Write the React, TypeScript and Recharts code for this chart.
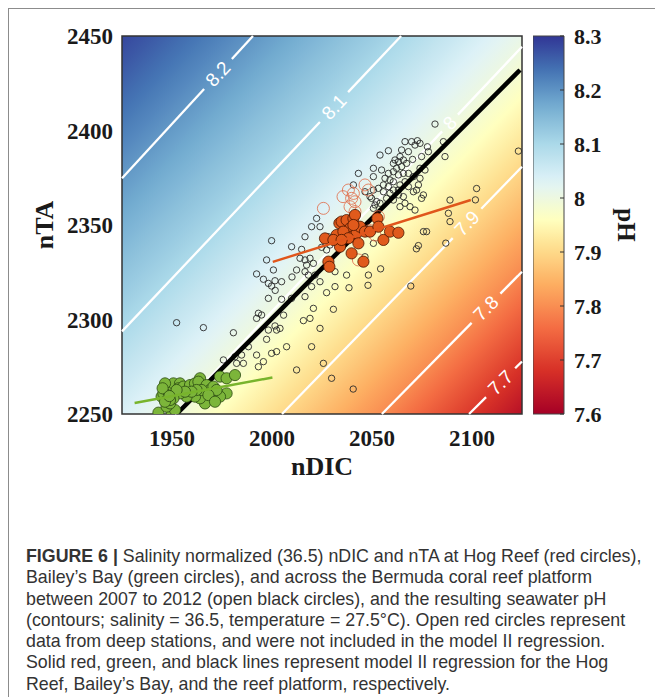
import React from "react";
import {
  ScatterChart,
  Scatter,
  XAxis,
  YAxis,
  ReferenceArea,
  ReferenceLine,
  Label,
} from "recharts";

// axes
const dicDomain = [1925, 2125];
const taDomain = [2250, 2450];
const dicTicks = [1950, 2000, 2050, 2100];
const taTicks = [2250, 2300, 2350, 2400, 2450];
const phTicks = [7.6, 7.7, 7.8, 7.9, 8.0, 8.1, 8.2, 8.3];

// pH contours: level, nTA where the contour crosses nDIC = 2025, slope, where the label sits
const contourLevels = [8.2, 8.1, 8.0, 7.9, 7.8, 7.7];
const contourLabels = ["8.2", "8.1", "8", "7.9", "7.8", "7.7"];
const contourTA2025 = [2489.7, 2405.7, 2332.3, 2271.8, 2217.8, 2172.8];
const contourSlope = [1.15, 1.12, 1.12, 1.09, 1.075, 1.05];
const contourLabelDIC = [1973, 2031, 2089, 2097.5, 2107, 2114.3];

// colour map (low pH red -> high pH blue)
const phColorLevels = [7.6, 7.68, 7.76, 7.84, 7.91, 7.96, 8.03, 8.1, 8.17, 8.235, 8.3];
const phColors = [
  "#a50026", "#d73027", "#f46d43", "#fdae61", "#fee090", "#ffffbf",
  "#e0f3f8", "#abd9e9", "#74add1", "#4575b4", "#313695",
];

// reef platform (open black circles)
const platform: number[][] = [
  [2081.5, 2403.4], [2066.5, 2394.1], [2069.8, 2394.1], [2072.7, 2394.6], [2074.0, 2393.2],
  [2071.5, 2392.3], [2077.7, 2391.4], [2078.2, 2388.8], [2074.8, 2386.2], [2070.3, 2384.7],
  [2068.2, 2388.8], [2064.8, 2389.7], [2064.0, 2386.2], [2061.5, 2384.4], [2060.7, 2382.6],
  [2063.2, 2383.5], [2065.7, 2384.4], [2067.3, 2382.6], [2064.8, 2380.9], [2062.3, 2380.0],
  [2060.7, 2378.2], [2058.2, 2377.3], [2054.8, 2379.1], [2054.0, 2387.0], [2058.2, 2389.3],
  [2050.7, 2380.0], [2050.7, 2375.6], [2043.2, 2377.3], [2056.5, 2374.7], [2059.0, 2373.8],
  [2060.7, 2372.9], [2063.2, 2376.5], [2065.7, 2377.3], [2068.2, 2377.3], [2070.7, 2375.6],
  [2074.0, 2374.7], [2073.2, 2371.2], [2072.3, 2368.5], [2070.7, 2367.6], [2068.2, 2370.3],
  [2066.5, 2372.9], [2064.0, 2371.2], [2063.2, 2368.5], [2060.7, 2368.5], [2058.2, 2370.3],
  [2055.7, 2371.2], [2053.2, 2369.4], [2055.7, 2367.6], [2059.0, 2366.8], [2063.2, 2365.9],
  [2065.7, 2365.0], [2066.5, 2361.5], [2064.0, 2359.7], [2060.7, 2363.2], [2057.3, 2364.1],
  [2050.7, 2368.5], [2049.8, 2364.1], [2051.5, 2360.6], [2074.8, 2364.1], [2075.7, 2365.9],
  [2069.0, 2359.7], [2071.5, 2357.9], [2085.7, 2394.1], [2086.5, 2386.2], [2089.0, 2363.2],
  [2088.2, 2356.2], [2089.0, 2351.8], [2077.3, 2346.5], [2075.7, 2346.5], [2074.0, 2380.0],
  [2076.5, 2379.1], [2054.0, 2361.5], [2040.7, 2371.2],
  [2102.3, 2369.3], [2101.7, 2363.3], [2123.2, 2389.1], [2086.9, 2340.4], [2073.2, 2339.1],
  [2072.2, 2337.4], [2069.4, 2317.7], [2054.3, 2326.8], [2048.0, 2318.1], [2038.5, 2316.8],
  [2046.5, 2367.6], [2049.0, 2365.0], [2052.3, 2362.4], [2050.7, 2358.8], [2022.3, 2353.5],
  [2019.8, 2349.1], [2024.0, 2349.1], [1999.8, 2341.7], [2009.8, 2338.5], [2014.8, 2337.1],
  [2016.5, 2343.8], [1997.3, 2331.5], [2000.7, 2326.2], [1992.3, 2324.1], [1995.7, 2321.3],
  [1998.2, 2319.1], [2001.5, 2320.5], [2004.8, 2320.0], [2014.0, 2332.4], [2016.5, 2331.5],
  [2019.0, 2332.4], [2017.3, 2328.8], [2012.3, 2326.2], [2016.5, 2325.3], [2018.2, 2323.5],
  [2021.5, 2323.5], [2027.3, 2336.8], [2029.0, 2339.4], [2031.5, 2325.3], [2037.3, 2323.5],
  [2048.2, 2323.5], [2031.5, 2317.4], [2050.7, 2340.3], [2042.3, 2355.3], [2046.5, 2333.2],
  [2028.2, 2343.8], [2024.8, 2338.2], [2010.0, 2322.5], [2001.6, 2315.4], [2027.9, 2329.5],
  [2020.7, 2329.7], [1999.8, 2317.7], [1998.2, 2311.2], [2004.8, 2310.7], [2009.8, 2311.2],
  [2016.5, 2312.1], [2019.8, 2317.4], [2024.0, 2320.0], [2027.3, 2314.2], [1952.3, 2298.3],
  [1965.7, 2295.7], [1980.7, 2293.0], [1993.2, 2303.3], [1994.8, 2302.4], [1992.3, 2300.6],
  [1998.2, 2294.4], [2002.3, 2294.4], [2001.5, 2296.6], [2004.0, 2295.3], [2007.3, 2285.6],
  [2015.7, 2299.4], [2019.0, 2300.6], [2024.0, 2295.3], [2020.7, 2305.9], [2030.7, 2305.4],
  [1997.3, 2289.5], [1988.2, 2285.6], [1992.3, 2281.2], [1995.7, 2277.7], [1993.2, 2275.0],
  [1999.8, 2282.1], [2002.3, 2283.0], [1984.8, 2281.2], [1981.5, 2280.3], [1982.3, 2276.8],
  [1985.7, 2276.8], [1975.7, 2278.6], [2012.3, 2273.3], [2019.8, 2285.6], [2029.8, 2268.9],
  [2025.7, 2276.8], [2040.6, 2263.2], [2005.8, 2302.3],
];

// Hog Reef (filled red)
const hogReef: number[][] = [
  [2026.5, 2342.9], [2028.2, 2330.6], [2028.7, 2327.9], [2032.3, 2344.7], [2033.7, 2350.9],
  [2034.0, 2338.5], [2034.8, 2351.8], [2037.3, 2352.6], [2039.0, 2348.2], [2039.8, 2343.8],
  [2039.8, 2335.0], [2040.7, 2353.5], [2041.5, 2355.3], [2042.3, 2345.6], [2043.2, 2340.3],
  [2044.0, 2349.1], [2045.7, 2330.6], [2046.5, 2346.5], [2049.0, 2346.5], [2052.7, 2353.5],
  [2053.2, 2349.1], [2055.7, 2342.1], [2059.0, 2346.5], [2063.2, 2345.9], [2040.7, 2350.0],
  [2035.7, 2346.5], [2038.2, 2343.0], [2030.7, 2342.1], [2034.8, 2342.1],
];

// Hog Reef deep stations (open red)
const hogDeep: number[][] = [
  [2025.7, 2358.8], [2038.2, 2368.5], [2039.8, 2364.1], [2039.0, 2359.7], [2041.5, 2362.3],
  [2046.5, 2371.2], [2048.2, 2368.5], [2041.5, 2357.1], [2053.2, 2354.4], [2051.5, 2344.7],
  [2043.2, 2331.5], [2040.7, 2366.7], [2049.0, 2347.0], [2035.5, 2365.0],
];

// Bailey's Bay (filled green)
const baileysBay: number[][] = [
  [1943.2, 2250.7], [1949.8, 2251.2], [1951.5, 2252.1], [1947.3, 2253.9], [1949.0, 2255.6],
  [1944.8, 2259.2], [1945.7, 2260.9], [1947.3, 2262.7], [1948.2, 2264.5], [1949.8, 2265.3],
  [1950.7, 2266.2], [1954.0, 2266.2], [1953.2, 2263.6], [1955.7, 2264.5], [1959.0, 2265.3],
  [1961.5, 2266.2], [1964.0, 2268.9], [1963.2, 2267.1], [1967.3, 2265.3], [1969.0, 2262.7],
  [1970.7, 2264.5], [1974.0, 2269.8], [1977.3, 2268.9], [1981.5, 2270.6], [1977.3, 2260.9],
  [1974.0, 2259.2], [1972.3, 2262.7], [1966.5, 2255.6], [1964.0, 2258.3], [1961.5, 2259.2],
  [1957.3, 2259.2], [1954.0, 2260.9], [1950.7, 2258.3], [1949.0, 2257.4], [1946.5, 2256.5],
  [1964.8, 2262.7], [1968.2, 2260.0], [1971.5, 2256.5], [1962.3, 2262.7], [1959.8, 2261.8],
  [1956.5, 2261.8], [1952.3, 2262.7], [1946.5, 2266.2], [1945.3, 2263.6], [1948.7, 2259.5],
];

// model II regression lines (end points)
const platformFit = [[1952.3, 2250], [2124, 2432]];
const hogFit = [[2000.4, 2330.5], [2099.4, 2363.2]];
const baileyFit = [[1931.3, 2255.8], [2000.2, 2269.3]];

const toPts = (arr: number[][]) => arr.map(([x, y]) => ({ x, y }));

const hexToRgb = (h: string) => [
  parseInt(h.slice(1, 3), 16),
  parseInt(h.slice(3, 5), 16),
  parseInt(h.slice(5, 7), 16),
];

const phColor = (ph: number) => {
  const lv = phColorLevels;
  if (ph <= lv[0]) return phColors[0];
  if (ph >= lv[lv.length - 1]) return phColors[phColors.length - 1];
  let i = 0;
  while (ph > lv[i + 1]) i++;
  const t = (ph - lv[i]) / (lv[i + 1] - lv[i]);
  const a = hexToRgb(phColors[i]);
  const b = hexToRgb(phColors[i + 1]);
  const c = a.map((v, k) => Math.round(v + t * (b[k] - v)));
  return `rgb(${c[0]},${c[1]},${c[2]})`;
};

// shading of the pH field: a linear gradient across the plot, perpendicular to the contours
const SLOPE = 1.1;
const dicSpan = dicDomain[1] - dicDomain[0];
const taSpan = taDomain[1] - taDomain[0];
const fieldOffset = contourTA2025.map(
  (b) => (SLOPE * (2025 - dicDomain[0]) / dicSpan + (taDomain[1] - b) / taSpan) / (SLOPE + 1)
);
const phAtOffset = (o: number) => {
  const n = fieldOffset.length;
  let i = 0;
  while (i < n - 2 && o > fieldOffset[i + 1]) i++;
  const t = (o - fieldOffset[i]) / (fieldOffset[i + 1] - fieldOffset[i]);
  return contourLevels[i] + t * (contourLevels[i + 1] - contourLevels[i]);
};
const gradScale = (SLOPE + 1) / (SLOPE * SLOPE + 1);
const fieldStops = Array.from({ length: 51 }, (_, k) => k / 50);
const barStops = Array.from({ length: 36 }, (_, k) => k / 35);

const contourSegment = (b: number, s: number) => {
  let x1 = dicDomain[0];
  let y1 = b + s * (x1 - 2025);
  if (y1 < taDomain[0]) {
    y1 = taDomain[0];
    x1 = 2025 + (taDomain[0] - b) / s;
  }
  let x2 = dicDomain[1];
  let y2 = b + s * (x2 - 2025);
  if (y2 > taDomain[1]) {
    y2 = taDomain[1];
    x2 = 2025 + (taDomain[1] - b) / s;
  }
  return [{ x: x1, y: y1 }, { x: x2, y: y2 }];
};

const serif = "'Liberation Serif', 'Times New Roman', serif";
const sans = "'Liberation Sans', Arial, sans-serif";

const renderContour = (props: any, label: string, t: number) => {
  const { x1, y1, x2, y2 } = props;
  if (x1 == null) return <g />;
  const dx = x2 - x1;
  const dy = y2 - y1;
  const len = Math.hypot(dx, dy);
  const ux = dx / len;
  const uy = dy / len;
  const px = x1 + t * dx;
  const py = y1 + t * dy;
  const g = 7 + 4.5 * label.length;
  const ang = (Math.atan2(dy, dx) * 180) / Math.PI;
  return (
    <g>
      <line x1={x1} y1={y1} x2={px - g * ux} y2={py - g * uy} stroke="#ffffff" strokeWidth={2.3} />
      <line x1={px + g * ux} y1={py + g * uy} x2={x2} y2={y2} stroke="#ffffff" strokeWidth={2.3} />
      <text
        x={px}
        y={py}
        transform={`rotate(${ang} ${px} ${py})`}
        textAnchor="middle"
        dominantBaseline="central"
        fill="#ffffff"
        fontSize={19}
        fontFamily={sans}
      >
        {label}
      </text>
    </g>
  );
};

const openBlack = (p: any) => (
  <circle cx={p.cx} cy={p.cy} r={3.2} fill="none" stroke="#2a2a2a" strokeWidth={0.9} />
);
const openRed = (p: any) => (
  <circle cx={p.cx} cy={p.cy} r={6} fill="none" stroke="#e0714f" strokeWidth={1} opacity={0.85} />
);
const filledRed = (p: any) => (
  <circle cx={p.cx} cy={p.cy} r={5.6} fill="#e05a1c" stroke="#4a1500" strokeWidth={0.8} />
);
const filledGreen = (p: any) => (
  <circle cx={p.cx} cy={p.cy} r={5.6} fill="#7cb53a" stroke="#2b4a12" strokeWidth={0.8} />
);
const noDot = () => <g />;

const tickStyle = { fontSize: 23, fontWeight: 700, fontFamily: serif, fill: "#1a1a1a" };

const ColorbarTick = (p: any) => {
  const v = p.payload.value;
  const txt = Math.abs(v - 8) < 1e-6 ? "8" : v.toFixed(1);
  return (
    <g>
      <line x1={p.x - 14} y1={p.y} x2={p.x - 10} y2={p.y} stroke="#333" strokeWidth={1} />
      <text x={p.x} y={p.y} dy="0.35em" textAnchor="start" {...tickStyle} fontSize={22}>
        {txt}
      </text>
    </g>
  );
};

// a single hidden point keeps the colour-bar chart's axes alive
const colorbarAnchor = [{ x: 0.5, y: 8.0 }];

export default function App() {
  return (
    <div
      style={{
        position: "fixed",
        left: 8,
        top: 8,
        width: 700,
        height: 720,
        borderTop: "1px solid #8c8c8c",
        borderLeft: "1px solid #8c8c8c",
        background: "#fff",
      }}
    >
      <div style={{ position: "absolute", left: 0, top: 0 }}>
        <ScatterChart width={640} height={480} margin={{ top: 27, right: 127, bottom: 0, left: 20 }}>
          <defs>
            <linearGradient id="phField" x1="0" y1="0" x2={SLOPE * gradScale} y2={gradScale}>
              {fieldStops.map((o) => (
                <stop key={o} offset={o} stopColor={phColor(phAtOffset(o))} />
              ))}
            </linearGradient>
          </defs>
          <XAxis
            type="number"
            dataKey="x"
            domain={dicDomain}
            ticks={dicTicks}
            allowDataOverflow
            height={75}
            axisLine={false}
            tickLine={false}
            tickSize={0}
            tickMargin={16}
            tick={tickStyle}
          >
            <Label
              content={(p: any) => {
                const vb = p.viewBox;
                return (
                  <text
                    x={vb.x + vb.width / 2}
                    y={vb.y + 61}
                    textAnchor="middle"
                    fontSize={26}
                    fontWeight={700}
                    fontFamily={serif}
                    fill="#1a1a1a"
                  >
                    nDIC
                  </text>
                );
              }}
            />
          </XAxis>
          <YAxis
            type="number"
            dataKey="y"
            domain={taDomain}
            ticks={taTicks}
            allowDataOverflow
            width={93}
            axisLine={false}
            tickLine={false}
            tickSize={0}
            tickMargin={9}
            tick={tickStyle}
          >
            <Label
              content={(p: any) => {
                const vb = p.viewBox;
                const cy = vb.y + vb.height / 2;
                const bx = 43.5;
                return (
                  <text
                    x={bx}
                    y={cy}
                    transform={`rotate(-90 ${bx} ${cy})`}
                    textAnchor="middle"
                    fontSize={26}
                    fontWeight={700}
                    fontFamily={serif}
                    fill="#1a1a1a"
                  >
                    nTA
                  </text>
                );
              }}
            />
          </YAxis>
          <ReferenceArea
            x1={dicDomain[0]}
            x2={dicDomain[1]}
            y1={taDomain[0]}
            y2={taDomain[1]}
            fill="url(#phField)"
            fillOpacity={1}
            stroke="#333"
            strokeWidth={1.5}
          />
          {contourLevels.map((lv, i) => {
            const seg = contourSegment(contourTA2025[i], contourSlope[i]);
            const t = (contourLabelDIC[i] - seg[0].x) / (seg[1].x - seg[0].x);
            return (
              <ReferenceLine
                key={lv}
                segment={seg}
                ifOverflow="visible"
                stroke="#ffffff"
                shape={(p: any) => renderContour(p, contourLabels[i], t)}
              />
            );
          })}
          <Scatter data={toPts(platform)} shape={openBlack} isAnimationActive={false} />
          <Scatter
            data={toPts(platformFit)}
            line={{ stroke: "#000000", strokeWidth: 4.5 }}
            shape={noDot}
            isAnimationActive={false}
          />
          <Scatter data={toPts(hogDeep)} shape={openRed} isAnimationActive={false} />
          <Scatter data={toPts(hogReef)} shape={filledRed} isAnimationActive={false} />
          <Scatter data={toPts(baileysBay)} shape={filledGreen} isAnimationActive={false} />
          <Scatter
            data={toPts(baileyFit)}
            line={{ stroke: "#78b42c", strokeWidth: 2.5 }}
            shape={noDot}
            isAnimationActive={false}
          />
          <Scatter
            data={toPts(hogFit)}
            line={{ stroke: "#e0561c", strokeWidth: 2.5 }}
            shape={noDot}
            isAnimationActive={false}
          />
        </ScatterChart>
      </div>

      <div style={{ position: "absolute", left: 524, top: 0 }}>
        <ScatterChart width={120} height={480} margin={{ top: 27, right: 0, bottom: 75, left: 0 }}>
          <defs>
            <linearGradient id="phBar" x1="0" y1="0" x2="0" y2="1">
              {barStops.map((o) => (
                <stop key={o} offset={o} stopColor={phColor(8.3 - o * 0.7)} />
              ))}
            </linearGradient>
          </defs>
          <XAxis type="number" dataKey="x" domain={[0, 1]} hide />
          <YAxis
            type="number"
            dataKey="y"
            orientation="right"
            domain={[7.6, 8.3]}
            ticks={phTicks}
            width={89}
            axisLine={false}
            tickLine={false}
            tickSize={0}
            tickMargin={10}
            tick={<ColorbarTick />}
          >
            <Label
              content={(p: any) => {
                const vb = p.viewBox;
                const cy = vb.y + vb.height / 2;
                const bx = 85;
                return (
                  <text
                    x={bx}
                    y={cy}
                    transform={`rotate(90 ${bx} ${cy})`}
                    textAnchor="middle"
                    fontSize={25}
                    fontWeight={700}
                    fontFamily={serif}
                    fill="#1a1a1a"
                  >
                    pH
                  </text>
                );
              }}
            />
          </YAxis>
          <ReferenceArea
            x1={0}
            x2={1}
            y1={7.6}
            y2={8.3}
            fill="url(#phBar)"
            fillOpacity={1}
            stroke="#444"
            strokeWidth={1}
          />
          <Scatter data={colorbarAnchor} shape={noDot} isAnimationActive={false} />
        </ScatterChart>
      </div>

      <div
        style={{
          position: "absolute",
          left: 17,
          top: 537,
          fontFamily: sans,
          fontSize: 17.8,
          lineHeight: "21.3px",
          color: "#333",
          whiteSpace: "nowrap",
        }}
      >
        <b>FIGURE 6 |</b> Salinity normalized (36.5) nDIC and nTA at Hog Reef (red circles),
        <br />
        Bailey’s Bay (green circles), and across the Bermuda coral reef platform
        <br />
        between 2007 to 2012 (open black circles), and the resulting seawater pH
        <br />
        (contours; salinity = 36.5, temperature = 27.5°C). Open red circles represent
        <br />
        data from deep stations, and were not included in the model II regression.
        <br />
        Solid red, green, and black lines represent model II regression for the Hog
        <br />
        Reef, Bailey’s Bay, and the reef platform, respectively.
      </div>
    </div>
  );
}
